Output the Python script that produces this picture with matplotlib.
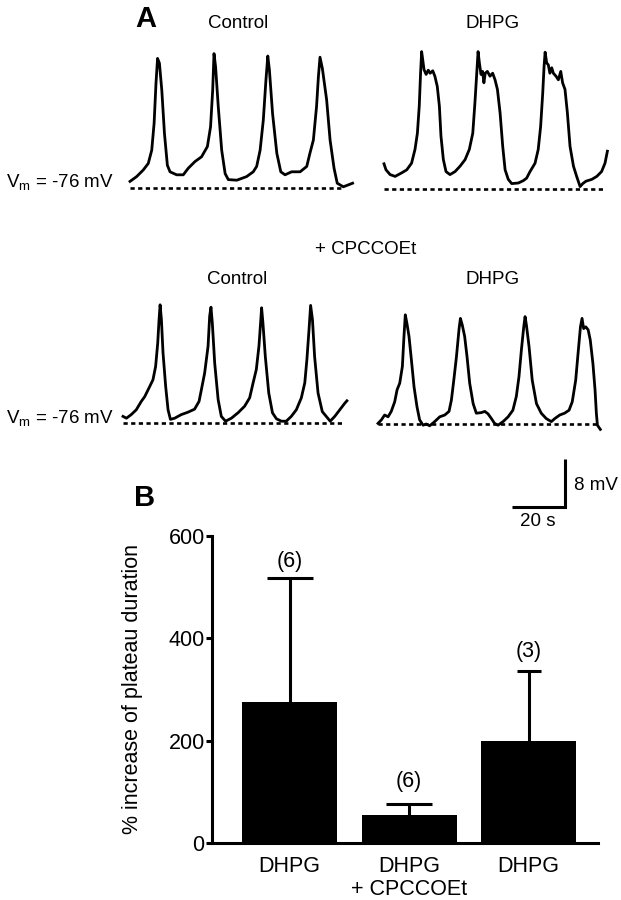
import matplotlib
matplotlib.use("Agg")
import matplotlib.pyplot as plt
import numpy as np

plt.rcParams['font.family'] = ['Liberation Sans', 'DejaVu Sans']
plt.rcParams['mathtext.fontset'] = 'custom'
plt.rcParams['mathtext.rm'] = 'Liberation Sans'

# ---------------- DATA ----------------
# Panel A traces: time (s) and membrane potential (mV)
ctrl_t = [0, 2.5, 5.0, 6.9, 8.2, 9.1, 9.8, 10.4, 11.1, 12.0, 13.0, 14.1, 15.1, 17.6, 20.1, 22.0, 24.5, 27.0,
          29.2, 30.4, 31.2, 31.7, 32.3, 33.3, 34.6, 35.9, 37.1, 40.3, 44.0, 46.5, 47.8, 49.1, 50.3, 51.3, 52.0,
          52.6, 53.8, 55.4, 56.9, 58.5, 61.0, 64.2, 66.7, 67.9, 69.2, 70.4, 71.1, 71.7, 72.6, 74.2, 75.5, 77.0,
          78.2, 80.5, 84.0]
ctrl_v = [-74.9, -74.1, -73.0, -71.9, -69.7, -65.2, -58.6, -54.4, -55.2, -59.7, -66.9, -72.2, -73.3, -73.8,
          -73.8, -72.7, -71.6, -70.8, -69.1, -65.8, -59.7, -53.6, -55.8, -62.4, -69.7, -73.6, -74.6, -74.7,
          -74.1, -73.3, -72.4, -69.7, -64.7, -58.0, -54.0, -56.3, -63.6, -70.2, -73.3, -73.8, -73.3, -73.3,
          -72.4, -70.2, -68.0, -62.4, -57.4, -54.2, -56.1, -61.3, -68.0, -72.7, -75.2, -75.8, -75.2]

dhpg_t = [0, 0.75, 2.3, 4.2, 6.7, 8.6, 10.4, 11.7, 12.6, 13.3, 13.8, 14.2, 14.6, 15.1, 15.9, 16.7, 17.4, 18.4,
          19.2, 20.1, 20.9, 21.5, 22.4, 23.4, 24.9, 26.8, 28.7, 30.6, 32.2, 33.5, 34.3, 35.0, 35.5, 36.0, 36.6,
          37.2, 37.7, 38.2, 39.0, 40.0, 41.0, 41.9, 42.8, 43.8, 44.8, 45.7, 46.9, 48.2, 50.7, 52.6, 53.8, 55.1,
          57.0, 58.2, 59.1, 59.9, 60.4, 60.8, 61.4, 62.0, 62.6, 63.3, 63.9, 64.9, 65.8, 66.7, 67.4, 68.3, 69.2,
          70.2, 71.5, 72.7, 74.0, 75.0, 76.2, 78.4, 80.3, 82.1, 83.4, 84.3]
dhpg_v = [-71.8, -72.8, -73.6, -73.9, -73.3, -72.8, -71.7, -69.4, -66.7, -62.2, -56.7, -53.1, -54.4, -56.1,
          -56.9, -56.2, -56.7, -56.3, -57.2, -58.9, -62.2, -67.2, -71.1, -73.1, -73.6, -73.1, -72.2, -71.1,
          -69.4, -66.7, -61.7, -56.7, -53.1, -55.0, -56.9, -56.4, -58.3, -56.7, -56.4, -57.2, -56.7, -57.8,
          -59.4, -63.3, -68.9, -72.8, -74.4, -75.1, -75.0, -74.6, -74.2, -73.1, -71.7, -69.4, -65.6, -60.0,
          -55.6, -53.2, -55.0, -55.3, -56.7, -55.8, -56.7, -57.2, -57.8, -56.4, -58.3, -59.4, -63.3, -68.9,
          -72.2, -73.9, -75.6, -75.1, -74.7, -74.4, -73.9, -73.1, -71.7, -69.7]

cpc_ctrl_t = [0, 1.3, 3.1, 5.0, 6.9, 8.2, 10.1, 11.3, 12.3, 13.1, 13.6, 14.0, 14.5, 15.1, 16.1, 17.0, 17.9,
              19.5, 22.0, 24.5, 27.0, 28.7, 29.6, 30.8, 32.1, 32.7, 33.2, 33.7, 34.6, 35.9, 37.1, 38.7, 40.9,
              43.4, 45.9, 47.8, 49.1, 50.3, 51.3, 52.0, 52.3, 52.8, 53.7, 55.0, 56.4, 57.9, 59.8, 61.6, 63.5,
              65.4, 67.3, 68.6, 69.4, 70.2, 70.8, 71.5, 72.3, 73.6, 75.2, 76.7, 78.2, 79.9, 81.8, 83.7, 84.5]
cpc_ctrl_v = [-74.9, -75.2, -74.6, -73.8, -72.4, -71.6, -69.9, -68.8, -66.6, -62.7, -58.8, -56.3, -58.8,
              -64.3, -69.9, -73.8, -75.4, -75.2, -74.6, -74.2, -73.7, -72.4, -70.4, -67.7, -63.2, -58.2,
              -56.7, -59.3, -66.0, -72.1, -74.9, -75.7, -75.2, -74.3, -73.2, -71.8, -69.3, -67.1, -63.2,
              -58.8, -56.8, -59.3, -64.9, -71.0, -74.3, -75.3, -75.7, -75.7, -74.9, -73.8, -71.8, -69.3,
              -65.4, -60.4, -56.4, -58.8, -64.9, -71.0, -74.1, -74.9, -75.7, -74.9, -73.8, -72.7, -72.3]

cpc_dhpg_t = [0, 1.3, 2.5, 3.8, 5.0, 6.3, 7.2, 8.2, 9.2, 9.8, 10.3, 10.9, 11.7, 12.6, 13.6, 14.7, 15.7, 17.0,
              18.2, 19.5, 21.4, 23.3, 25.2, 26.8, 27.7, 28.6, 29.6, 30.6, 31.1, 31.8, 32.7, 33.6, 34.6, 35.9,
              37.1, 39.0, 40.3, 41.5, 42.8, 44.0, 45.3, 47.2, 49.1, 50.9, 52.2, 53.2, 54.1, 55.0, 55.5, 56.0,
              57.0, 58.2, 59.8, 61.6, 63.5, 65.4, 66.7, 68.6, 70.4, 72.1, 73.3, 74.6, 75.6, 76.4, 77.0, 77.6,
              78.4, 79.3, 80.1, 81.1, 81.9, 82.4, 82.8, 83.9]
cpc_dhpg_v = [-75.9, -75.3, -74.5, -74.8, -73.9, -72.3, -70.3, -69.2, -66.4, -61.4, -57.8, -59.2, -61.4,
              -65.3, -69.8, -73.1, -75.3, -76.2, -76.0, -76.3, -75.6, -74.8, -74.5, -73.9, -72.0, -68.7,
              -64.8, -60.1, -58.4, -59.5, -61.4, -64.8, -69.2, -72.6, -74.2, -74.1, -73.9, -74.3, -75.1,
              -75.9, -76.2, -75.6, -74.8, -73.7, -71.4, -68.1, -63.7, -59.8, -58.1, -59.5, -63.1, -68.7,
              -72.6, -74.2, -75.1, -75.6, -75.1, -74.5, -74.2, -73.7, -72.3, -68.7, -63.7, -59.8, -58.4,
              -60.1, -59.8, -60.3, -62.0, -65.9, -70.3, -74.2, -76.2, -76.9]

resting_mv = -76
dash_end_s = [80, 83.4, 83, 82.4]   # extent of the dashed -76 mV reference lines

# Scale bar
scale_mv = 8
scale_s = 20

# Panel B bar chart
bar_labels = ['DHPG', 'DHPG\n+ CPCCOEt', 'DHPG']
bar_means = [275, 55, 200]
bar_sem = [243, 21, 137]
bar_n = ['(6)', '(6)', '(3)']

# ---------------- LAYOUT HELPERS ----------------
W, H = 621, 900
fig = plt.figure(figsize=(W / 100, H / 100), dpi=100)

PX_PER_S = 53 / 20.0
PX_PER_MV = 48 / 8.0


def px_axes(left, top, width, height):
    ax = fig.add_axes([left / W, 1 - (top + height) / H, width / W, height / H])
    return ax


def fig_text(x, y, s, **kw):
    fig.text(x / W, 1 - y / H, s, **kw)


def trace_axes(x0, base_y, tmin=-2, tmax=88, vmin=-80, vmax=-50):
    left = x0 + tmin * PX_PER_S
    width = (tmax - tmin) * PX_PER_S
    top = base_y - (vmax - resting_mv) * PX_PER_MV
    height = (vmax - vmin) * PX_PER_MV
    ax = px_axes(left, top, width, height)
    ax.set_xlim(tmin, tmax)
    ax.set_ylim(vmin, vmax)
    ax.axis('off')
    return ax


TRACE_LW = 2.0
traces = [
    (ctrl_t, ctrl_v, 130, 188, dash_end_s[0]),
    (dhpg_t, dhpg_v, 384, 189, dash_end_s[1]),
    (cpc_ctrl_t, cpc_ctrl_v, 123, 423, dash_end_s[2]),
    (cpc_dhpg_t, cpc_dhpg_v, 378, 424, dash_end_s[3]),
]
for t, v, x0, by, dend in traces:
    ax = trace_axes(x0, by)
    ax.plot([0, dend], [resting_mv, resting_mv], color='black', lw=1.9,
            linestyle=(0, (1.6, 1.3)), clip_on=False, solid_capstyle='butt')
    ax.plot(t, v, color='black', lw=TRACE_LW, clip_on=False, solid_joinstyle='round')

# Panel A texts
fs_a = 13.5
fig_text(146, 19, 'A', fontsize=21, fontweight='bold', ha='center', va='center')
fig_text(238, 23, 'Control', fontsize=fs_a, ha='center', va='center')
fig_text(493, 23, 'DHPG', fontsize=fs_a, ha='center', va='center')
fig_text(366, 249, '+ CPCCOEt', fontsize=fs_a, ha='center', va='center')
fig_text(237, 280, 'Control', fontsize=fs_a, ha='center', va='center')
fig_text(493, 280, 'DHPG', fontsize=fs_a, ha='center', va='center')
fig_text(6, 183, r'V$_\mathregular{m}$ = -76 mV', fontsize=fs_a, ha='left', va='center')
fig_text(6, 419, r'V$_\mathregular{m}$ = -76 mV', fontsize=fs_a, ha='left', va='center')

# Scale bar
sax = px_axes(565 - scale_s * PX_PER_S, 507 - scale_mv * PX_PER_MV,
              scale_s * PX_PER_S, scale_mv * PX_PER_MV)
sax.set_xlim(0, scale_s)
sax.set_ylim(0, scale_mv)
sax.axis('off')
sax.plot([0, scale_s, scale_s], [0, 0, scale_mv], color='black', lw=2.2,
         solid_joinstyle='miter', solid_capstyle='butt', clip_on=False)
fig_text(574, 485, f'{scale_mv} mV', fontsize=fs_a, ha='left', va='center')
fig_text(538, 522, f'{scale_s} s', fontsize=fs_a, ha='center', va='center')

# ---------------- PANEL B ----------------
fs_b = 15.5
bx_left, bx_right, by_top, by_bot = 212, 598, 536, 843
bax = px_axes(bx_left, by_top, bx_right - bx_left, by_bot - by_top)
x = np.arange(len(bar_means))
unit_px = 119.5
bax.set_xlim(-(289.5 - bx_left) / unit_px, 2 + (bx_right - 528.5) / unit_px)
bax.set_ylim(0, 600)
bax.bar(x, bar_means, width=95 / unit_px, color='black', zorder=2)
capsizes = [16.5, 16.5, 8.6]
label_off = [12, 16, 14]
for i in range(len(bar_means)):
    eb = bax.errorbar(x[i], bar_means[i], yerr=[[0], [bar_sem[i]]], fmt='none', ecolor='black',
                      elinewidth=2.2, capsize=capsizes[i], capthick=2.2, zorder=3, clip_on=False)
    caps = eb[1]
    if len(caps) == 2:
        caps[0].set_visible(False)
    bax.annotate(bar_n[i], (x[i], bar_means[i] + bar_sem[i]), xytext=(0, label_off[i]),
                 textcoords='offset points', ha='center', va='center', fontsize=fs_b,
                 annotation_clip=False)

for s in ['top', 'right']:
    bax.spines[s].set_visible(False)
for s in ['left', 'bottom']:
    bax.spines[s].set_linewidth(2.2)
bax.spines['left'].set_bounds(0, 600)
bax.set_yticks([0, 200, 400, 600])
bax.set_yticklabels(['0', '200', '400', '600'], fontsize=fs_b)
bax.tick_params(axis='y', length=4.5, width=2.2, pad=0.8)
bax.set_xticks(x)
bax.set_xticklabels(bar_labels, fontsize=fs_b, linespacing=1.15)
bax.tick_params(axis='x', length=0, pad=9)
bax.set_ylabel('% increase of plateau duration', fontsize=fs_b)
bax.yaxis.set_label_coords((143 - bx_left) / (bx_right - bx_left), 0.5)
bax.patch.set_alpha(0)

fig_text(145, 498, 'B', fontsize=21, fontweight='bold', ha='center', va='center')

fig.savefig('out.png', dpi=100)
